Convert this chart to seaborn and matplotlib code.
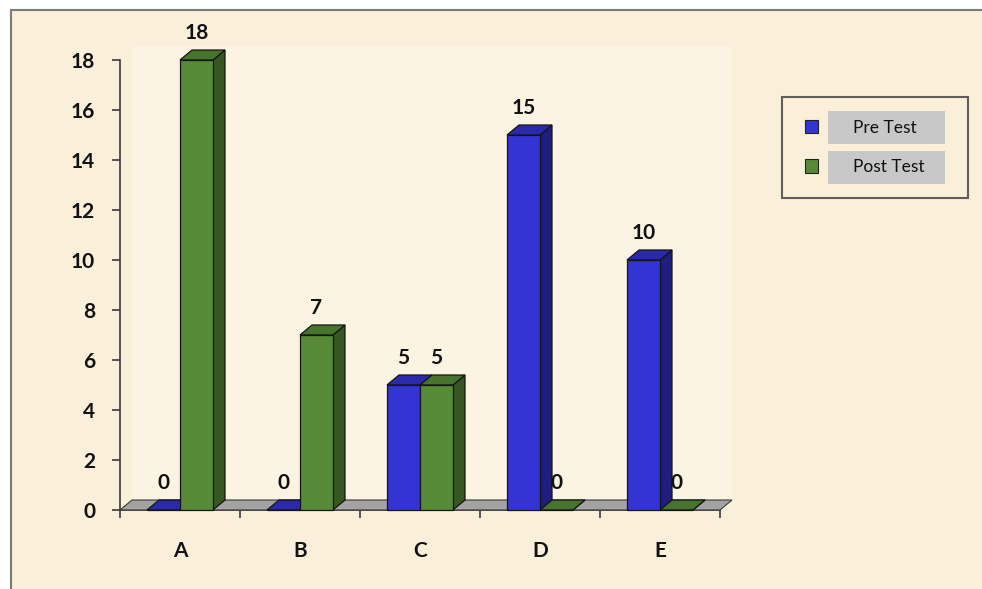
"""
Pre test vs post test counts per option, drawn as pseudo-3D bars
"""
import numpy as np
import pandas as pd
import matplotlib
matplotlib.use("Agg")
import matplotlib.pyplot as plt
from matplotlib.patches import Rectangle, Polygon, Patch
import seaborn as sns

# data
options = ["A", "B", "C", "D", "E"]
pre_test = [0, 0, 5, 15, 10]
post_test = [18, 7, 5, 0, 0]
series = ["Pre Test", "Post Test"]

df = pd.DataFrame({
    "option": options * 2,
    "count": pre_test + post_test,
    "test": [series[0]] * len(options) + [series[1]] * len(options),
})

# colours: front, side, top
palette = {"Pre Test": "#3434d4", "Post Test": "#578a37"}
side_col = {"#3434d4": "#1e1e80", "#578a37": "#36571f"}
top_col = {"#3434d4": "#2a2aaa", "#578a37": "#47742c"}
paper = "#FAF0D9"

sns.set_theme(style="white")
plt.rcParams["font.family"] = ["Lato", "DejaVu Sans"]

W, H = 982, 589
fig = plt.figure(figsize=(W / 100, H / 100), dpi=100, facecolor="white")

# parchment panel with grey frame on left/top
fig.patches.append(Rectangle((11 / W, -0.02), 1.05, 1.02 - 10 / H, transform=fig.transFigure,
                             facecolor=paper, edgecolor="#7A7A7A", linewidth=1.5, zorder=-5))

ymax = 19.5
ax = fig.add_axes([120 / W, 79 / H, 600 / W, 25 * ymax / H])
ax.patch.set_alpha(0)

sns.barplot(data=df, x="option", y="count", hue="test", palette=palette,
            saturation=1, width=0.55, gap=0, edgecolor="#151515", linewidth=0.9,
            legend=False, ax=ax)

ax.set_xlim(-0.5, len(options) - 0.5)
ax.set_ylim(0, ymax)

# depth of the fake 3D (12 px right, 10 px up)
dx = 12 / 120
dy = 10 / 25

# back wall and floor
ax.add_patch(Rectangle((-0.5 + dx, dy), len(options), 18.5 - dy, facecolor="#FCF4E2",
                       edgecolor="none", zorder=0.5, clip_on=False))
x0, x1 = -0.5, len(options) - 0.5
ax.add_patch(Polygon([(x0, 0), (x1, 0), (x1 + dx, dy), (x0 + dx, dy)], closed=True,
                     facecolor="#A3A3A3", edgecolor="#3A3A3A", linewidth=0.8,
                     zorder=1, clip_on=False))

bars = sorted(ax.patches[:len(df)], key=lambda p: p.get_x())
for i, p in enumerate(bars):
    bx, bw, bh = p.get_x(), p.get_width(), p.get_height()
    front = matplotlib.colors.to_hex(p.get_facecolor())
    z = 3 + i * 0.01
    side = Polygon([(bx + bw, 0), (bx + bw + dx, dy), (bx + bw + dx, bh + dy), (bx + bw, bh)],
                   closed=True, facecolor=side_col.get(front, front), edgecolor="#151515",
                   linewidth=0.9, zorder=z, clip_on=False)
    top = Polygon([(bx, bh), (bx + bw, bh), (bx + bw + dx, bh + dy), (bx + dx, bh + dy)],
                  closed=True, facecolor=top_col.get(front, front), edgecolor="#151515",
                  linewidth=0.9, zorder=z, clip_on=False)
    ax.add_patch(side)
    ax.add_patch(top)
    p.set_zorder(z + 0.005)
    p.set_clip_on(False)

# value labels
for cont in ax.containers:
    ax.bar_label(cont, fmt="%d", padding=12, fontsize=15, fontweight="bold",
                 color="#111111", zorder=10)

# axes styling
for s in ["top", "right"]:
    ax.spines[s].set_visible(False)
ax.spines["left"].set_bounds(0, 18)
for s in ["left", "bottom"]:
    ax.spines[s].set_color("#3A3A3A")
    ax.spines[s].set_linewidth(1.2)
ax.spines["bottom"].set_zorder(0.8)

ax.set_yticks(range(0, 19, 2))
ax.set_xticks(range(len(options)))
ax.set_xticklabels(options)
ax.set_xticks(np.arange(-0.5, len(options), 1), minor=True)
ax.tick_params(axis="y", length=6, width=1.2, color="#3A3A3A", pad=12,
               labelsize=15, labelcolor="#111111", left=True)
ax.tick_params(axis="x", which="major", length=0, pad=22, labelsize=15,
               labelcolor="#111111")
ax.tick_params(axis="x", which="minor", length=6, width=1.2, color="#3A3A3A",
               bottom=True)
for lab in ax.get_xticklabels() + ax.get_yticklabels():
    lab.set_fontweight("bold")
ax.set_xlabel("")
ax.set_ylabel("")

# legend
handles = [Patch(facecolor=palette[s], edgecolor="#222222", linewidth=0.8) for s in series]
leg = ax.legend(handles, series, loc="upper left", mode="expand",
                bbox_to_anchor=(782 / W, 1 - 190 / H, 186 / W, 93 / H),
                bbox_transform=fig.transFigure, borderaxespad=0,
                frameon=True, fancybox=False, facecolor="none", edgecolor="#3A3A3A",
                fontsize=12.5, borderpad=1.3, labelspacing=1.35,
                handlelength=0.8, handleheight=0.8, handletextpad=2.0)
leg.get_frame().set_linewidth(1.5)
for t in leg.get_texts():
    t.set_color("#111111")

# grey boxes behind legend labels, same width and x for both
fig.canvas.draw()
extents = [t.get_window_extent() for t in leg.get_texts()]
cx = np.mean([(bb.x0 + bb.x1) / 2 for bb in extents])
for bb in extents:
    cy = (bb.y0 + bb.y1) / 2
    bw, bh = 117, 33
    fig.patches.append(Rectangle(((cx - bw / 2) / W, (cy - bh / 2) / H), bw / W, bh / H,
                                 transform=fig.transFigure, facecolor="#C8C8C8",
                                 edgecolor="none", zorder=-1))

fig.savefig("out.png", dpi=100)
